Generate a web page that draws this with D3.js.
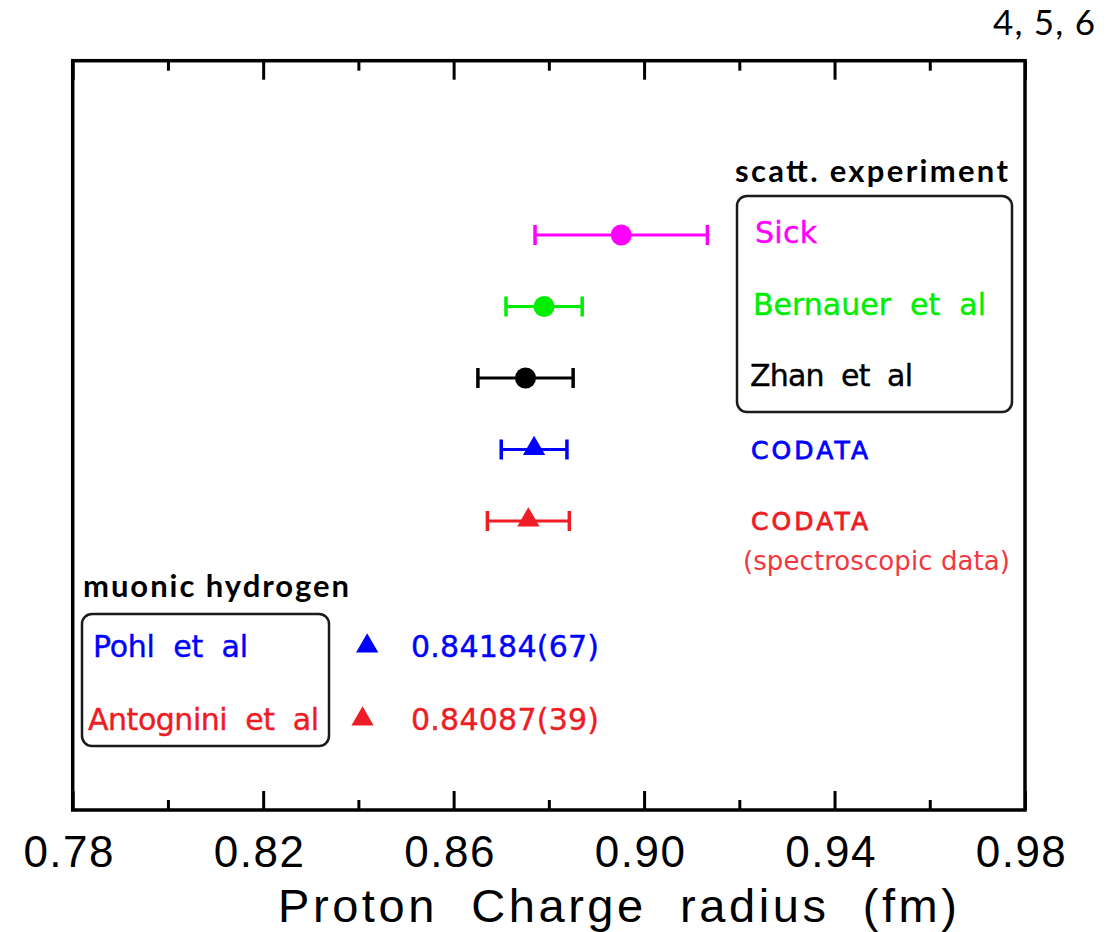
<!DOCTYPE html>
<html>
<head>
<meta charset="utf-8">
<script src="https://cdn.jsdelivr.net/npm/d3@7"></script>
<style>
  html, body { margin: 0; padding: 0; background: #ffffff; }
  svg { display: block; }
</style>
</head>
<body>
<div id="chart"></div>
<script>
// ---------------- data ----------------
const scattNames   = ["Sick", "Bernauer  et  al", "Zhan  et  al", "CODATA", "CODATA"];
const scattValues  = [0.8952, 0.8790, 0.8751, 0.8769, 0.8757];
const scattErrors  = [0.0181, 0.0080, 0.0100, 0.0069, 0.0086];
const scattColors  = ["#ff00ff", "#00ee00", "#000000", "#0000ff", "#ee1c24"];
const scattShapes  = ["circle", "circle", "circle", "triangle", "triangle"];
const scattNote    = "(spectroscopic data)";

const muonNames    = ["Pohl  et  al", "Antognini  et  al"];
const muonValues   = [0.84184, 0.84087];
const muonLabels   = ["0.84184(67)", "0.84087(39)"];
const muonColors   = ["#0000ff", "#ee1c24"];

const majorTicks   = [0.78, 0.82, 0.86, 0.90, 0.94, 0.98];
const minorTicks   = [0.80, 0.84, 0.88, 0.92, 0.96];
const xDomain      = [0.78, 0.98];
const xTitle       = "Proton  Charge  radius  (fm)";
const scattHeader  = "scatt. experiment";
const muonHeader   = "muonic hydrogen";
const cornerNote   = "4, 5, 6";

// ---------------- layout ----------------
const W = 1114, H = 932;
const frame = { left: 72.7, right: 1025, top: 60.7, bottom: 810 };

const svg = d3.select("#chart").append("svg")
  .attr("width", W).attr("height", H)
  .attr("viewBox", `0 0 ${W} ${H}`);

const x = d3.scaleLinear().domain(xDomain).range([frame.left, frame.right]);
const yScatt = d3.scalePoint().domain(d3.range(scattNames.length)).range([235, 521]);
const yMuon  = d3.scalePoint().domain(d3.range(muonNames.length)).range([646, 719]);

// ---------------- frame & axes ----------------
const axisG = svg.append("g");

function drawAxis(gen, yPos, labels) {
  const g = axisG.append("g")
    .attr("transform", `translate(0,${yPos})`)
    .call(gen);
  g.select(".domain").remove();
  g.selectAll(".tick line").attr("stroke", "#000").attr("stroke-width", 3);
  if (!labels) g.selectAll(".tick text").remove();
  return g;
}

// bottom axis (ticks pointing up into plot)
const bottomMajor = drawAxis(
  d3.axisBottom(x).tickValues(majorTicks).tickFormat(d3.format(".2f")).tickSizeInner(-19).tickSizeOuter(0),
  frame.bottom, true);
bottomMajor.selectAll(".tick text")
  .attr("y", 57).attr("dy", 0).attr("dx", -4)
  .attr("font-family", "'Liberation Sans', Arial, sans-serif")
  .attr("font-size", 44)
  .attr("letter-spacing", "1.5px")
  .attr("fill", "#000");
drawAxis(d3.axisBottom(x).tickValues(minorTicks).tickSizeInner(-10).tickSizeOuter(0), frame.bottom, false);

// top axis (ticks pointing down into plot)
drawAxis(d3.axisTop(x).tickValues(majorTicks).tickSizeInner(-19).tickSizeOuter(0), frame.top, false);
drawAxis(d3.axisTop(x).tickValues(minorTicks).tickSizeInner(-10).tickSizeOuter(0), frame.top, false);

// frame box
svg.append("rect")
  .attr("x", frame.left).attr("y", frame.top)
  .attr("width", frame.right - frame.left)
  .attr("height", frame.bottom - frame.top)
  .attr("fill", "none").attr("stroke", "#000").attr("stroke-width", 3.5);

// axis title
svg.append("text")
  .attr("x", (278 + 957) / 2).attr("y", 922)
  .attr("text-anchor", "middle")
  .attr("font-family", "'Liberation Sans', Arial, sans-serif")
  .attr("font-size", 47)
  .attr("textLength", 679).attr("lengthAdjust", "spacing")
  .style("white-space", "pre")
  .text(xTitle);

// corner note
svg.append("text")
  .attr("x", 993).attr("y", 35)
  .attr("font-family", "Lato, 'Open Sans', sans-serif")
  .attr("font-size", 35)
  .attr("textLength", 102).attr("lengthAdjust", "spacing")
  .text(cornerNote);

// ---------------- scattering data ----------------
const capH = 10;
const scattData = scattNames.map((n, i) => ({
  name: n, v: scattValues[i], e: scattErrors[i], c: scattColors[i], s: scattShapes[i], i
}));

const pts = svg.append("g");
const rows = pts.selectAll("g.row").data(scattData).join("g").attr("class", "row");

rows.append("line")
  .attr("x1", d => x(d.v - d.e)).attr("x2", d => x(d.v + d.e))
  .attr("y1", d => yScatt(d.i)).attr("y2", d => yScatt(d.i))
  .attr("stroke", d => d.c).attr("stroke-width", 3);
rows.append("line")
  .attr("x1", d => x(d.v - d.e)).attr("x2", d => x(d.v - d.e))
  .attr("y1", d => yScatt(d.i) - capH).attr("y2", d => yScatt(d.i) + capH)
  .attr("stroke", d => d.c).attr("stroke-width", 3.5);
rows.append("line")
  .attr("x1", d => x(d.v + d.e)).attr("x2", d => x(d.v + d.e))
  .attr("y1", d => yScatt(d.i) - capH).attr("y2", d => yScatt(d.i) + capH)
  .attr("stroke", d => d.c).attr("stroke-width", 3.5);

const triSym = d3.symbol().type(d3.symbolTriangle).size(215);
rows.filter(d => d.s === "circle").append("circle")
  .attr("cx", d => x(d.v)).attr("cy", d => yScatt(d.i)).attr("r", 10.5)
  .attr("fill", d => d.c);
rows.filter(d => d.s === "triangle").append("path")
  .attr("d", triSym)
  .attr("transform", d => `translate(${x(d.v)},${yScatt(d.i) - 1})`)
  .attr("fill", d => d.c);

// scattering labels
const labelFont = "'DejaVu Sans', Verdana, sans-serif";
const scattLabelX = [755, 753, 750, 751, 751];
const scattLabelLen = [62, 233, 163, 117, 117];
rows.append("text")
  .attr("x", (d, i) => scattLabelX[i])
  .attr("y", d => yScatt(d.i) + (d.s === "circle" ? 8 : 9))
  .attr("font-family", labelFont)
  .attr("font-size", d => d.s === "circle" ? 30 : 25)
  .attr("stroke", d => d.c)
  .attr("stroke-width", d => d.s === "circle" ? 0.4 : 0.8)
  .attr("textLength", (d, i) => scattLabelLen[i]).attr("lengthAdjust", "spacing")
  .style("white-space", "pre")
  .attr("fill", d => d.c)
  .text(d => d.name);

svg.append("text")
  .attr("x", 743).attr("y", yScatt(4) + 49)
  .attr("font-family", labelFont)
  .attr("font-size", 26)
  .attr("textLength", 267).attr("lengthAdjust", "spacing")
  .attr("fill", "#f0383e")
  .text(scattNote);

// scattering legend box & header
svg.append("rect")
  .attr("x", 737).attr("y", 196).attr("width", 275).attr("height", 216)
  .attr("rx", 10).attr("ry", 10)
  .attr("fill", "none").attr("stroke", "#1a1a1a").attr("stroke-width", 2.5);
svg.append("text")
  .attr("x", 735).attr("y", 182)
  .attr("font-family", "Lato, 'Open Sans', sans-serif")
  .attr("font-weight", "bold").attr("font-size", 31)
  .attr("textLength", 273).attr("lengthAdjust", "spacing")
  .text(scattHeader);

// ---------------- muonic hydrogen ----------------
const muonData = muonNames.map((n, i) => ({ name: n, v: muonValues[i], lab: muonLabels[i], c: muonColors[i], i }));
const mrows = svg.append("g").selectAll("g").data(muonData).join("g");

mrows.append("path")
  .attr("d", triSym)
  .attr("transform", d => `translate(${x(d.v)},${yMuon(d.i)})`)
  .attr("fill", d => d.c);

const muonNameX = [93, 88];
const muonNameLen = [155, 231];
mrows.append("text")
  .attr("x", (d, i) => muonNameX[i]).attr("y", d => yMuon(d.i) + 11)
  .attr("font-family", labelFont).attr("font-size", 30)
  .attr("stroke", d => d.c).attr("stroke-width", 0.4)
  .attr("textLength", (d, i) => muonNameLen[i]).attr("lengthAdjust", "spacing")
  .style("white-space", "pre")
  .attr("fill", d => d.c)
  .text(d => d.name);
mrows.append("text")
  .attr("x", 411).attr("y", d => yMuon(d.i) + 11)
  .attr("font-family", labelFont).attr("font-size", 30)
  .attr("stroke", d => d.c).attr("stroke-width", 0.4)
  .attr("textLength", 188).attr("lengthAdjust", "spacing")
  .attr("fill", d => d.c)
  .text(d => d.lab);

svg.append("rect")
  .attr("x", 82).attr("y", 614).attr("width", 247).attr("height", 132)
  .attr("rx", 10).attr("ry", 10)
  .attr("fill", "none").attr("stroke", "#1a1a1a").attr("stroke-width", 2.5);
svg.append("text")
  .attr("x", 83).attr("y", 597)
  .attr("font-family", "Lato, 'Open Sans', sans-serif")
  .attr("font-weight", "bold").attr("font-size", 31)
  .attr("textLength", 266).attr("lengthAdjust", "spacing")
  .text(muonHeader);
</script>
</body>
</html>
